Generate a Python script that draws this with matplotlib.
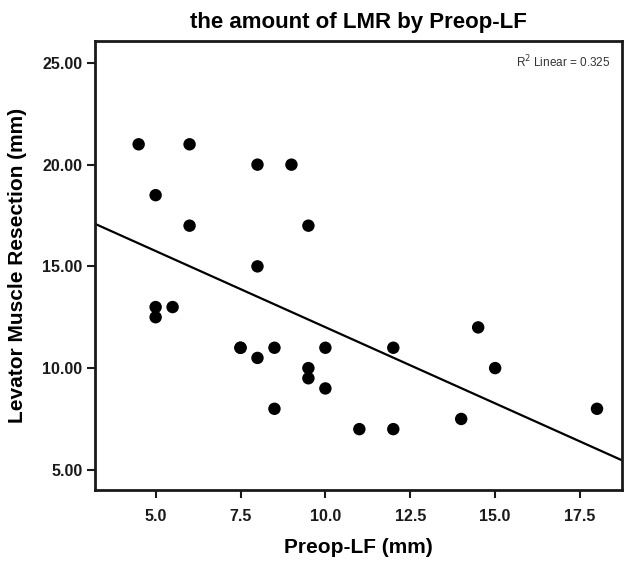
import numpy as np
import matplotlib
matplotlib.use("Agg")
import matplotlib.pyplot as plt
from matplotlib import font_manager

# data
preop_lf = [4.5, 6.0, 5.0, 6.0, 8.0, 9.0, 9.5, 8.0, 5.0, 5.5, 5.0, 7.5, 7.5, 8.0,
            8.5, 10.0, 12.0, 9.5, 9.5, 10.0, 8.5, 11.0, 12.0, 14.0, 14.5, 15.0, 18.0]
lmr = [21.0, 21.0, 18.5, 17.0, 20.0, 20.0, 17.0, 15.0, 13.0, 13.0, 12.5, 11.0, 11.0, 10.5,
       11.0, 11.0, 11.0, 10.0, 9.5, 9.0, 8.0, 7.0, 7.0, 7.5, 12.0, 10.0, 8.0]
x_ticks = [5.0, 7.5, 10.0, 12.5, 15.0, 17.5]
y_ticks = [5.0, 10.0, 15.0, 20.0, 25.0]
r2_label = "R$^2$ Linear = 0.325"

plt.rcParams['font.family'] = ['Liberation Sans', 'DejaVu Sans']

# narrow face for the tick labels if it is there
names = {f.name for f in font_manager.fontManager.ttflist}
narrow = 'Liberation Sans Narrow' in names
tick_font = ['Liberation Sans Narrow', 'Liberation Sans'] if narrow else ['Liberation Sans']
tick_size = 12.5 if narrow else 11.5

fig = plt.figure(figsize=(6.24, 5.61), dpi=100)
ax = fig.add_axes([0.152, 0.127, 0.845, 0.800])

x = np.array(preop_lf)
y = np.array(lmr)
ax.scatter(x, y, s=80, color='black', edgecolors='none', zorder=3)

# linear fit line across the whole axis
xlim = (3.21, 18.74)
slope, intercept = np.polyfit(x, y, 1)
xs = np.array(xlim)
ax.plot(xs, slope * xs + intercept, color='black', linewidth=1.6, zorder=2)

ax.set_xlim(*xlim)
ax.set_ylim(4.02, 26.08)
ax.set_xticks(x_ticks)
ax.set_xticklabels([f'{t:.1f}' for t in x_ticks])
ax.set_yticks(y_ticks)
ax.set_yticklabels([f'{t:.2f}' for t in y_ticks])

for lab in ax.get_xticklabels() + ax.get_yticklabels():
    lab.set_family(tick_font)
    lab.set_fontweight('bold')
    lab.set_fontsize(tick_size)

ax.tick_params(direction='out', length=6, width=1.5, colors='#1a1a1a', pad=3)
ax.tick_params(axis='x', pad=8)
for sp in ax.spines.values():
    sp.set_linewidth(2)
    sp.set_color('#1a1a1a')

ax.set_title('the amount of LMR by Preop-LF', fontsize=16, fontweight='bold', pad=9)
ax.set_xlabel('Preop-LF (mm)', fontsize=15, fontweight='bold', labelpad=10)
ax.set_ylabel('Levator Muscle Resection (mm)', fontsize=15, fontweight='bold', labelpad=11)

ax.text(0.978, 0.972, r2_label, transform=ax.transAxes, ha='right', va='top',
        fontsize=8.5, color='#333333')

fig.savefig('out.png', dpi=100)
